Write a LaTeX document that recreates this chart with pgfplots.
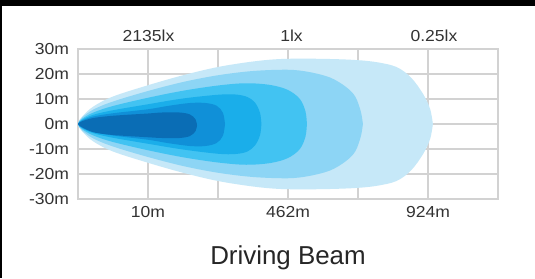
\documentclass[border=0pt]{standalone}
\usepackage{fontspec}
\setmainfont{Liberation Sans}
\usepackage{pgfplots}
\pgfplotsset{compat=1.18}
\definecolor{cA}{HTML}{0A6DB5}
\definecolor{cB}{HTML}{1090D8}
\definecolor{cC}{HTML}{1AAEEA}
\definecolor{cD}{HTML}{42C3F2}
\definecolor{cE}{HTML}{8DD5F5}
\definecolor{cF}{HTML}{C6E8F8}
\definecolor{gridc}{HTML}{D2D2D2}
\definecolor{txt}{HTML}{333333}
\begin{document}
\begin{tikzpicture}[x=1bp,y=1bp]
\fill[white] (0,0) rectangle (535,278);
\path[use as bounding box] (0,0) rectangle (535,278);
\begin{axis}[at={(78bp,79bp)}, anchor=south west, scale only axis,
  width=420bp, height=150bp,
  xmin=0, xmax=6, ymin=-30, ymax=30,
  xtick={0,1,2,3,4,5,6}, xticklabels={,10m,,462m,,924m,},
  ytick={-30,-20,-10,0,10,20,30},
  yticklabels={-30m,-20m,-10m,0m,10m,20m,30m},
  grid=major, grid style={gridc, line width=1.4bp},
  axis line style={gridc, line width=1.4bp},
  major tick length=0pt, tick style={draw=none},
  tick label style={font=\fontsize{16}{18}\selectfont, text=txt, inner sep=0pt, xscale=1.1},
  yticklabel style={anchor=east, xshift=-8bp},
  xticklabel style={anchor=north, yshift=-7bp},
  smooth, tension=0.55]
\addplot[fill=cF, draw=none] coordinates {
 (5.07,0) (5.03,6) (4.93,12) (4.76,18.5) (4.55,22.8) (4.25,24.8) (3.9,25.7) (3.4,26.1) (2.9,26) (2.5,25) (2,22.8) (1.5,19.5) (1,15.5) (0.5,11) (0.22,7) (0.06,3) (0,0)
 (0.06,-3) (0.22,-7) (0.5,-11) (1,-15.5) (1.5,-19.5) (2,-22.8) (2.5,-25) (2.9,-26) (3.4,-26.1) (3.9,-25.7) (4.25,-24.8) (4.55,-22.8) (4.76,-18.5) (4.93,-12) (5.03,-6) (5.07,0)
} -- cycle;
\addplot[fill=cE, draw=none] coordinates {
 (4.07,0) (4.04,5) (3.96,11) (3.82,15) (3.6,18.6) (3.3,20.8) (3,21.7) (2.5,21.2) (2,19.5) (1.5,16.8) (1,13.2) (0.5,9) (0.22,5.8) (0.06,2.6) (0,0)
 (0.06,-2.6) (0.22,-5.8) (0.5,-9) (1,-13.2) (1.5,-16.8) (2,-19.5) (2.5,-21.2) (3,-21.7) (3.3,-20.8) (3.6,-18.6) (3.82,-15) (3.96,-11) (4.04,-5) (4.07,0)
} -- cycle;
\addplot[fill=cD, draw=none] coordinates {
 (3.27,0) (3.25,5) (3.17,10) (3.0,13.6) (2.75,15.6) (2.4,16.3) (2,15.4) (1.5,13.3) (1,10.5) (0.5,7.2) (0.22,4.6) (0.06,2.1) (0,0)
 (0.06,-2.1) (0.22,-4.6) (0.5,-7.2) (1,-10.5) (1.5,-13.3) (2,-15.4) (2.4,-16.3) (2.75,-15.6) (3.0,-13.6) (3.17,-10) (3.25,-5) (3.27,0)
} -- cycle;
\addplot[fill=cC, draw=none] coordinates {
 (2.62,0) (2.6,4.5) (2.53,8.5) (2.42,10.8) (2.25,11.8) (2,11.7) (1.5,10.2) (1,7.9) (0.5,5.5) (0.22,3.7) (0.06,1.7) (0,0)
 (0.06,-1.7) (0.22,-3.7) (0.5,-5.5) (1,-7.9) (1.5,-10.2) (2,-11.9) (2.25,-12) (2.42,-11) (2.53,-8.5) (2.6,-4.5) (2.62,0)
} -- cycle;
\addplot[fill=cB, draw=none] coordinates {
 (2.1,0) (2.07,4.5) (1.98,7.3) (1.82,8.4) (1.6,8.4) (1.3,7.3) (1,5.9) (0.5,4.3) (0.22,3) (0.06,1.4) (0,0)
 (0.06,-1.5) (0.22,-3.2) (0.5,-4.6) (1,-6.3) (1.3,-7.7) (1.6,-8.8) (1.82,-8.8) (1.98,-7.6) (2.07,-4.7) (2.1,0)
} -- cycle;
\addplot[fill=cA, draw=none] coordinates {
 (1.7,-0.5) (1.68,1.8) (1.6,3.8) (1.45,4.6) (1.2,4.6) (1,4.2) (0.5,3.3) (0.22,2.4) (0.06,1.1) (0,0)
 (0.06,-1.3) (0.22,-3.3) (0.5,-4.4) (1,-5.3) (1.2,-5.6) (1.45,-5.6) (1.6,-4.8) (1.68,-2.8) (1.7,-0.5)
} -- cycle;
\end{axis}
\begin{scope}[every node/.style={font=\fontsize{16}{18}\selectfont, text=txt, anchor=base, inner sep=0pt, xscale=1.1}]
\node at (148.5,237) {2135lx};
\node at (291.5,237) {1lx};
\node at (434,237) {0.25lx};
\end{scope}
\node[font=\fontsize{26}{30}\selectfont, text=black!85, anchor=base, inner sep=0pt] at (288,14) {Driving Beam};
\fill[black] (0,272) rectangle (535,278);
\fill[black] (0,0) rectangle (2,272);
\end{tikzpicture}
\end{document}
